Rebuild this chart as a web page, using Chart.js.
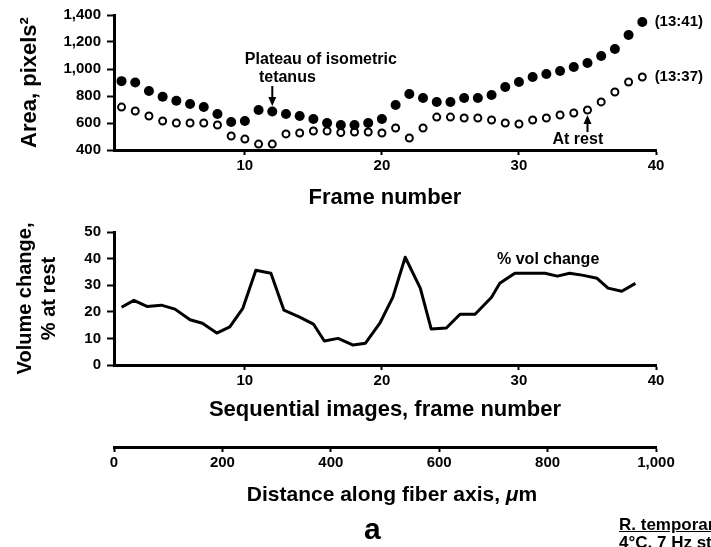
<!DOCTYPE html>
<html>
<head>
<meta charset="utf-8">
<title>Fiber area and volume change</title>
<script src="https://cdn.jsdelivr.net/npm/chart.js@4.4.1/dist/chart.umd.min.js"></script>
<style>
  body {
    margin: 0;
    width: 711px;
    height: 547px;
    overflow: hidden;
    background: #fff;
    position: relative;
    font-family: "Liberation Sans", Arial, sans-serif;
    color: #000;
  }
  canvas { position: absolute; left: 0; }
  #areaChart { top: 0; }
  #volChart { top: 215px; }
  #distChart { top: 430px; }
  #panel {
    position: absolute;
    left: 364px;
    top: 512px;
    font-size: 30px;
    font-weight: bold;
  }
  #species {
    position: absolute;
    left: 619px;
    top: 516px;
    font-size: 17px;
    font-weight: bold;
    line-height: 18px;
    white-space: nowrap;
  }
  #species span { text-decoration: underline; }
</style>
</head>
<body>
<canvas id="areaChart" width="711" height="215"></canvas>
<canvas id="volChart" width="711" height="215"></canvas>
<canvas id="distChart" width="711" height="117"></canvas>
<div id="panel">a</div>
<div id="species"><span>R. temporaria</span><br>4°C, 7 Hz stimulation</div>

<script>
"use strict";

// frame numbers and areas (pixels^2) for the two runs
const frames = [1, 2, 3, 4, 5, 6, 7, 8, 9, 10, 11, 12, 13, 14, 15, 16, 17, 18, 19, 20,
  21, 22, 23, 24, 25, 26, 27, 28, 29, 30, 31, 32, 33, 34, 35, 36, 37, 38, 39];
const area1341 = [910, 900, 837, 795, 765, 741, 718, 667, 607, 615, 696, 685, 667, 652, 630,
  600, 585, 585, 600, 630, 733, 815, 785, 756, 756, 785, 785, 807, 867, 904, 941, 963, 985,
  1015, 1044, 1096, 1148, 1252, 1348];
const area1337 = [718, 689, 652, 615, 600, 600, 600, 585, 504, 481, 444, 444, 519, 526, 541,
  541, 530, 533, 533, 526, 563, 489, 563, 644, 644, 637, 637, 622, 600, 593, 622, 637, 659,
  674, 696, 756, 830, 904, 941];

// % volume change along the sequence
const volFrames = [1, 1.9, 2.85, 3.9, 4.9, 6, 6.9, 7.95, 8.9, 9.85, 10.8, 11.9, 12.85, 14, 15,
  15.8, 16.8, 17.9, 18.8, 19.85, 20.8, 21.7, 22.8, 23.6, 24.7, 25.7, 26.8, 28, 28.6, 29.7,
  30.9, 31.9, 32.8, 33.7, 34.7, 35.7, 36.5, 37.5, 38.5];
const volChange = [21.7, 24.3, 22, 22.5, 21, 17, 15.7, 12, 14.3, 21.3, 35.6, 34.5, 20.6, 18,
  15.4, 9, 10, 7.5, 8.2, 15.7, 25.5, 40.5, 28.9, 13.5, 13.9, 19.1, 19.1, 25.5, 30.7, 34.5,
  34.5, 34.5, 33.4, 34.5, 33.7, 32.6, 28.9, 27.7, 30.7];

const frameTicks = [10, 20, 30, 40];
const areaTicks = [400, 600, 800, 1000, 1200, 1400];
const volTicks = [0, 10, 20, 30, 40, 50];
const distTicks = [0, 200, 400, 600, 800, 1000];

const fontFamily = '"Liberation Sans", Arial, sans-serif';
const tickFont = { family: fontFamily, size: 15, weight: "bold" };
const titleFont = { family: fontFamily, size: 22, weight: "bold" };

function toPoints(xs, ys) {
  return xs.map((x, i) => ({ x: x, y: ys[i] }));
}

function useTicks(list) {
  return function (scale) {
    scale.ticks = list.map(v => ({ value: v }));
  };
}

function fixWidth(w) {
  return function (scale) { scale.width = w; };
}

function fixHeight(h) {
  return function (scale) { scale.height = h; };
}

function commas(v) {
  return Number(v).toLocaleString("en-US");
}

// text labels and arrows placed in data units
const notesPlugin = {
  id: "notes",
  afterDraw(chart, args, opts) {
    const ctx = chart.ctx;
    const xs = chart.scales.x;
    const ys = chart.scales.y;
    ctx.save();
    ctx.fillStyle = "#000";
    ctx.strokeStyle = "#000";
    (opts.labels || []).forEach(l => {
      ctx.font = "bold " + (l.size || 16) + "px " + fontFamily;
      ctx.textAlign = l.align || "left";
      ctx.textBaseline = "middle";
      ctx.fillText(l.text, xs.getPixelForValue(l.x), ys.getPixelForValue(l.y));
    });
    (opts.arrows || []).forEach(a => {
      const px = xs.getPixelForValue(a.x);
      const from = ys.getPixelForValue(a.from);
      const to = ys.getPixelForValue(a.to);
      const dir = to > from ? 1 : -1;
      ctx.lineWidth = 2;
      ctx.beginPath();
      ctx.moveTo(px, from);
      ctx.lineTo(px, to - dir * 5);
      ctx.stroke();
      ctx.beginPath();
      ctx.moveTo(px, to);
      ctx.lineTo(px - 4, to - dir * 9);
      ctx.lineTo(px + 4, to - dir * 9);
      ctx.closePath();
      ctx.fill();
    });
    ctx.restore();
  }
};

// bottom title with the italic mu
const distTitlePlugin = {
  id: "distTitle",
  afterDraw(chart) {
    const ctx = chart.ctx;
    const area = chart.chartArea;
    const parts = [
      { text: "Distance along fiber axis, ", font: "bold 21px " + fontFamily },
      { text: "\u03bc", font: "italic bold 21px " + fontFamily },
      { text: "m", font: "bold 21px " + fontFamily }
    ];
    ctx.save();
    let total = 0;
    parts.forEach(p => {
      ctx.font = p.font;
      p.w = ctx.measureText(p.text).width;
      total += p.w;
    });
    let x = (area.left + area.right) / 2 + 7 - total / 2;
    ctx.fillStyle = "#000";
    ctx.textBaseline = "middle";
    ctx.textAlign = "left";
    parts.forEach(p => {
      ctx.font = p.font;
      ctx.fillText(p.text, x, 65);
      x += p.w;
    });
    ctx.restore();
  }
};

function xAxis(min, max, ticks, title, titlePad) {
  return {
    type: "linear",
    min: min,
    max: max,
    afterBuildTicks: useTicks(ticks),
    afterFit: fixHeight(65),
    border: { display: true, color: "#000", width: 3 },
    grid: { drawOnChartArea: false, drawTicks: true, tickLength: 5, tickWidth: 2, tickColor: "#000" },
    ticks: { color: "#000", font: tickFont, padding: 2, maxRotation: 0, callback: commas },
    title: { display: true, text: title, color: "#000", font: titleFont, padding: { top: 0, bottom: titlePad } }
  };
}

function yAxis(min, max, ticks, title, titleFontSize, titlePad) {
  return {
    type: "linear",
    min: min,
    max: max,
    afterBuildTicks: useTicks(ticks),
    afterFit: fixWidth(114),
    border: { display: true, color: "#000", width: 3 },
    grid: { drawOnChartArea: false, drawTicks: true, tickLength: 7, tickWidth: 2, tickColor: "#000" },
    ticks: { color: "#000", font: tickFont, padding: 6, callback: commas },
    title: {
      display: true,
      text: title,
      color: "#000",
      font: { family: fontFamily, size: titleFontSize, weight: "bold", lineHeight: 1.2 },
      padding: { top: titlePad, bottom: 0 }
    }
  };
}

const baseOptions = {
  responsive: false,
  animation: false,
  events: []
};

const areaChart = new Chart(document.getElementById("areaChart"), {
  type: "scatter",
  data: {
    datasets: [
      {
        label: "13:41",
        data: toPoints(frames, area1341),
        pointRadius: 5,
        pointBackgroundColor: "#000",
        pointBorderWidth: 0
      },
      {
        label: "13:37",
        data: toPoints(frames, area1337),
        pointRadius: 3.5,
        pointBackgroundColor: "#fff",
        pointBorderColor: "#000",
        pointBorderWidth: 2
      }
    ]
  },
  options: {
    ...baseOptions,
    layout: { padding: { top: 15, right: 55, bottom: 0, left: 0 } },
    scales: {
      x: xAxis(0.45, 40, frameTicks, "Frame number", 4),
      y: yAxis(400, 1400, areaTicks, "Area, pixels\u00b2", 22, 17)
    },
    plugins: {
      legend: { display: false },
      tooltip: { enabled: false },
      notes: {
        labels: [
          { text: "Plateau of isometric", x: 10.0, y: 1067 },
          { text: "tetanus", x: 13.1, y: 933, align: "center" },
          { text: "(13:41)", x: 39.9, y: 1348, size: 15 },
          { text: "(13:37)", x: 39.9, y: 941, size: 15 },
          { text: "At rest", x: 34.3, y: 474, align: "center" }
        ],
        arrows: [
          { x: 12, from: 874, to: 726 },
          { x: 35, from: 533, to: 659 }
        ]
      }
    }
  },
  plugins: [notesPlugin]
});

const volChart = new Chart(document.getElementById("volChart"), {
  type: "scatter",
  data: {
    datasets: [
      {
        label: "% vol change",
        data: toPoints(volFrames, volChange),
        showLine: true,
        borderColor: "#000",
        borderWidth: 3,
        borderJoinStyle: "round",
        pointRadius: 0
      }
    ]
  },
  options: {
    ...baseOptions,
    layout: { padding: { top: 17, right: 55, bottom: 0, left: 0 } },
    scales: {
      x: xAxis(0.45, 40, frameTicks, "Sequential images, frame number", 7),
      y: yAxis(0, 50, volTicks, ["Volume change,", "% at rest"], 20, 13)
    },
    plugins: {
      legend: { display: false },
      tooltip: { enabled: false },
      notes: {
        labels: [
          { text: "% vol change", x: 28.4, y: 39.7 }
        ]
      }
    }
  },
  plugins: [notesPlugin]
});

const distChart = new Chart(document.getElementById("distChart"), {
  type: "scatter",
  data: { datasets: [] },
  options: {
    ...baseOptions,
    layout: { padding: { top: 5, right: 55, bottom: 0, left: 114 } },
    scales: {
      x: {
        type: "linear",
        min: 0,
        max: 1000,
        afterBuildTicks: useTicks(distTicks),
        afterFit: fixHeight(100),
        border: { display: true, color: "#000", width: 3 },
        grid: { drawOnChartArea: false, drawTicks: true, tickLength: 5, tickWidth: 2, tickColor: "#000" },
        ticks: { color: "#000", font: tickFont, padding: 2, maxRotation: 0, callback: commas },
        title: { display: false }
      },
      y: { display: false, min: 0, max: 1 }
    },
    plugins: {
      legend: { display: false },
      tooltip: { enabled: false }
    }
  },
  plugins: [distTitlePlugin]
});
</script>
</body>
</html>
